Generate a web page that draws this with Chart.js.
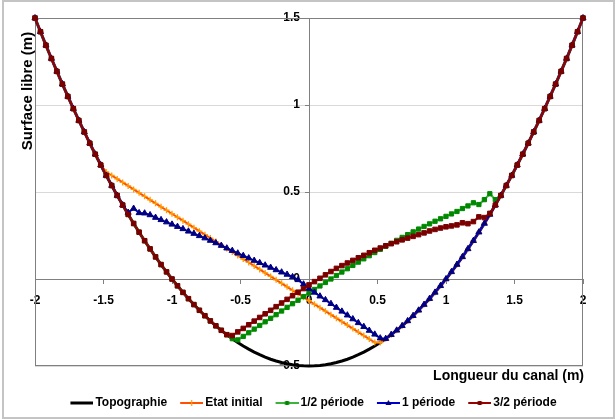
<!DOCTYPE html>
<html>
<head>
<meta charset="utf-8">
<script src="https://cdn.jsdelivr.net/npm/chart.js@4/dist/chart.umd.min.js"></script>
<style>
  html, body { margin: 0; padding: 0; background: #fff; }
  canvas { display: block; }
</style>
</head>
<body>
<canvas id="c" width="616" height="419"></canvas>
<script>
const FONT = '"Liberation Sans", Arial, sans-serif'

// abscisses du canal (m)
const xs = [
  -2, -1.96, -1.92, -1.88, -1.84, -1.8, -1.76, -1.72, -1.68, -1.64,
  -1.6, -1.56, -1.52, -1.48, -1.44, -1.4, -1.36, -1.32, -1.28, -1.24,
  -1.2, -1.16, -1.12, -1.08, -1.04, -1, -0.96, -0.92, -0.88, -0.84,
  -0.8, -0.76, -0.72, -0.68, -0.64, -0.6, -0.56, -0.52, -0.48, -0.44,
  -0.4, -0.36, -0.32, -0.28, -0.24, -0.2, -0.16, -0.12, -0.08, -0.04,
  0, 0.04, 0.08, 0.12, 0.16, 0.2, 0.24, 0.28, 0.32, 0.36,
  0.4, 0.44, 0.48, 0.52, 0.56, 0.6, 0.64, 0.68, 0.72, 0.76,
  0.8, 0.84, 0.88, 0.92, 0.96, 1, 1.04, 1.08, 1.12, 1.16,
  1.2, 1.24, 1.28, 1.32, 1.36, 1.4, 1.44, 1.48, 1.52, 1.56,
  1.6, 1.64, 1.68, 1.72, 1.76, 1.8, 1.84, 1.88, 1.92, 1.96, 2,
]

const topo = [
  1.5, 1.421, 1.343, 1.267, 1.193, 1.12, 1.049, 0.979, 0.911, 0.845,
  0.78, 0.717, 0.655, 0.595, 0.537, 0.48, 0.425, 0.371, 0.319, 0.269,
  0.22, 0.173, 0.127, 0.083, 0.041, 0, -0.039, -0.077, -0.113, -0.147,
  -0.18, -0.211, -0.241, -0.269, -0.295, -0.32, -0.343, -0.365, -0.385, -0.403,
  -0.42, -0.435, -0.449, -0.461, -0.471, -0.48, -0.487, -0.493, -0.497, -0.499,
  -0.5, -0.499, -0.497, -0.493, -0.487, -0.48, -0.471, -0.461, -0.449, -0.435,
  -0.42, -0.403, -0.385, -0.365, -0.343, -0.32, -0.295, -0.269, -0.241, -0.211,
  -0.18, -0.147, -0.113, -0.077, -0.039, 0, 0.041, 0.083, 0.127, 0.173,
  0.22, 0.269, 0.319, 0.371, 0.425, 0.48, 0.537, 0.595, 0.655, 0.717,
  0.78, 0.845, 0.911, 0.979, 1.049, 1.12, 1.193, 1.267, 1.343, 1.421, 1.5,
]

// zones mouillees : hors de ces zones la surface libre suit la topographie
const etatFrom = 13 // x = -1.48
const etatWet = [
  0.615, 0.595, 0.575, 0.555, 0.535, 0.515, 0.495, 0.475, 0.455, 0.435,
  0.415, 0.395, 0.375, 0.355, 0.335, 0.315, 0.295, 0.275, 0.255, 0.235,
  0.215, 0.195, 0.175, 0.155, 0.135, 0.115, 0.095, 0.075, 0.055, 0.035,
  0.015, -0.005, -0.025, -0.045, -0.065, -0.085, -0.105, -0.125, -0.145, -0.165,
  -0.185, -0.205, -0.225, -0.245, -0.265, -0.285, -0.305, -0.325, -0.345, -0.365,
]

const demiFrom = 37 // x = -0.52
const demiWet = [
  -0.35, -0.33, -0.309, -0.288, -0.267, -0.246, -0.226, -0.205, -0.184, -0.163,
  -0.142, -0.122, -0.101, -0.08, -0.06, -0.04, -0.02, 0, 0.02, 0.04,
  0.059, 0.078, 0.097, 0.116, 0.134, 0.152, 0.17, 0.188, 0.205, 0.222,
  0.239, 0.255, 0.271, 0.287, 0.302, 0.317, 0.332, 0.346, 0.36, 0.374,
  0.388, 0.405, 0.42, 0.438, 0.428, 0.456, 0.49, 0.456,
]

const uneFrom = 17 // x = -1.32
const uneWet = [
  0.382, 0.405, 0.38, 0.378, 0.368, 0.353, 0.34, 0.327, 0.314, 0.301,
  0.288, 0.274, 0.261, 0.248, 0.235, 0.221, 0.207, 0.192, 0.177, 0.163,
  0.148, 0.134, 0.12, 0.106, 0.093, 0.079, 0.066, 0.052, 0.039, 0.026,
  0.012, -0.005, -0.03, -0.055, -0.077, -0.099, -0.12, -0.142, -0.164, -0.186,
  -0.208, -0.23, -0.252, -0.274, -0.296, -0.318, -0.34,
]

const troisFrom = 36 // x = -0.56
const troisWet = [
  -0.325, -0.304, -0.284, -0.263, -0.242, -0.221, -0.2, -0.18, -0.159, -0.138,
  -0.117, -0.096, -0.076, -0.055, -0.034, -0.015, 0.004, 0.024, 0.043, 0.061,
  0.077, 0.092, 0.107, 0.122, 0.136, 0.151, 0.165, 0.178, 0.191, 0.203,
  0.214, 0.225, 0.235, 0.245, 0.255, 0.265, 0.276, 0.285, 0.293, 0.3,
  0.305, 0.311, 0.323, 0.318, 0.33, 0.357, 0.353, 0.377,
]

const labels = ['Topographie', 'Etat initial', '1/2 période', '1 période', '3/2 période']
const X_TITLE = 'Longueur du canal (m)'
const Y_TITLE = 'Surface libre (m)'

const surface = (from, wet) => topo.map((t, i) => (i >= from && i < from + wet.length) ? wet[i - from] : t)
const pts = (ys) => xs.map((x, i) => ({ x, y: ys[i] }))

const series = [
  { data: topo, line: '#000000', mark: null, style: false, r: 0, lw: 3 },
  { data: surface(etatFrom, etatWet), line: '#ff5000', mark: '#ff9a00', style: 'cross', r: 3, lw: 2 },
  { data: surface(demiFrom, demiWet), line: '#3cb43c', mark: '#008800', style: 'rect', r: 3, lw: 2 },
  { data: surface(uneFrom, uneWet), line: '#0000cc', mark: '#000080', style: 'triangle', r: 3.5, lw: 2 },
  { data: surface(troisFrom, troisWet), line: '#990000', mark: '#7a0000', style: 'rect', r: 3.2, lw: 2 },
]

// petite vignette ligne + marqueur pour la legende
function legendIcon(s) {
  const c = document.createElement('canvas')
  c.width = 36
  c.height = 10
  const g = c.getContext('2d')
  g.strokeStyle = s.line
  g.lineWidth = s.lw
  g.beginPath(); g.moveTo(13, 5); g.lineTo(36, 5); g.stroke()
  const cx = 24.5, cy = 5
  g.fillStyle = s.mark
  g.strokeStyle = s.mark
  g.lineWidth = 1.2
  if (s.style === 'rect') g.fillRect(cx - 2, cy - 2, 4, 4)
  if (s.style === 'triangle') {
    g.beginPath(); g.moveTo(cx, cy - 3); g.lineTo(cx + 3, cy + 2); g.lineTo(cx - 3, cy + 2); g.closePath(); g.fill()
  }
  if (s.style === 'cross') {
    g.beginPath(); g.moveTo(cx, cy - 3); g.lineTo(cx, cy + 3); g.stroke()
  }
  return c
}

const frame = {
  id: 'frame',
  beforeDraw(chart) {
    const { ctx, width, height } = chart
    ctx.save()
    ctx.fillStyle = '#fff'
    ctx.fillRect(0, 0, width, height)
    ctx.strokeStyle = '#c4c4c4'
    ctx.lineWidth = 2
    ctx.strokeRect(3, 1, width - 5, height - 2)
    ctx.restore()
  },
  beforeDatasetsDraw(chart) {
    const { ctx, chartArea: a } = chart
    ctx.save()
    ctx.strokeStyle = '#808080'
    ctx.lineWidth = 1
    ctx.strokeRect(Math.round(a.left) + 0.5, Math.round(a.top) + 0.5, Math.round(a.width) - 1, Math.round(a.height) - 1)
    ctx.restore()
  },
  afterDraw(chart) {
    const { ctx, chartArea: a } = chart
    ctx.save()
    ctx.fillStyle = '#000'
    ctx.font = 'bold 14px ' + FONT
    ctx.textAlign = 'right'
    ctx.textBaseline = 'middle'
    ctx.fillText(X_TITLE, a.right + 1, a.bottom + 10)
    ctx.font = 'bold 15px ' + FONT
    ctx.translate(28, a.top + 73)
    ctx.rotate(-Math.PI / 2)
    ctx.textAlign = 'center'
    ctx.fillText(Y_TITLE, 0, 0)
    ctx.restore()
  },
}

const tickFont = { family: FONT, size: 12, weight: 'bold' }
const tickLabel = (v) => String(Math.round(v * 10) / 10)

new Chart(document.getElementById('c'), {
  type: 'line',
  data: {
    datasets: series.map((s, i) => ({
      label: labels[i],
      data: pts(s.data),
      borderColor: s.line,
      borderWidth: s.lw,
      pointStyle: s.style,
      pointRadius: s.r,
      pointBackgroundColor: s.mark || s.line,
      pointBorderColor: s.mark || s.line,
      pointBorderWidth: s.style === 'cross' ? 1.3 : 1,
      tension: 0,
      clip: false,
      order: series.length - i,
    })),
  },
  options: {
    responsive: false,
    animation: false,
    devicePixelRatio: 1,
    layout: { padding: { left: 35, right: 33, top: 18, bottom: 0 } },
    scales: {
      x: {
        type: 'linear',
        position: { y: 0 },
        min: -2,
        max: 2,
        ticks: { stepSize: 0.5, color: '#000', padding: 10, font: tickFont, callback: tickLabel },
        grid: { drawOnChartArea: false, tickLength: 4, tickColor: '#808080' },
        border: { color: '#808080' },
      },
      y: {
        type: 'linear',
        position: 'center', // x va de -2 a 2 : le centre est x = 0
        min: -0.5,
        max: 1.5,
        ticks: { stepSize: 0.5, color: '#000', padding: 5, font: tickFont, callback: tickLabel },
        grid: { color: '#d9d9d9', tickLength: 4, tickColor: '#808080' },
        border: { color: '#808080' },
      },
    },
    plugins: {
      tooltip: { enabled: false },
      legend: {
        position: 'bottom',
        title: { display: true, text: '', padding: { top: 25.8, bottom: 0 }, font: { size: 1 } },
        labels: {
          usePointStyle: true,
          pointStyleWidth: 28,
          padding: 4,
          color: '#000',
          font: tickFont,
          generateLabels: (chart) => chart.data.datasets.map((d, i) => ({
            text: d.label,
            pointStyle: legendIcon(series[i]),
            datasetIndex: i,
            hidden: false,
            lineWidth: 0,
            fillStyle: 'transparent',
            strokeStyle: 'transparent',
            fontColor: '#000',
          })),
        },
      },
    },
  },
  plugins: [frame],
})
</script>
</body>
</html>
